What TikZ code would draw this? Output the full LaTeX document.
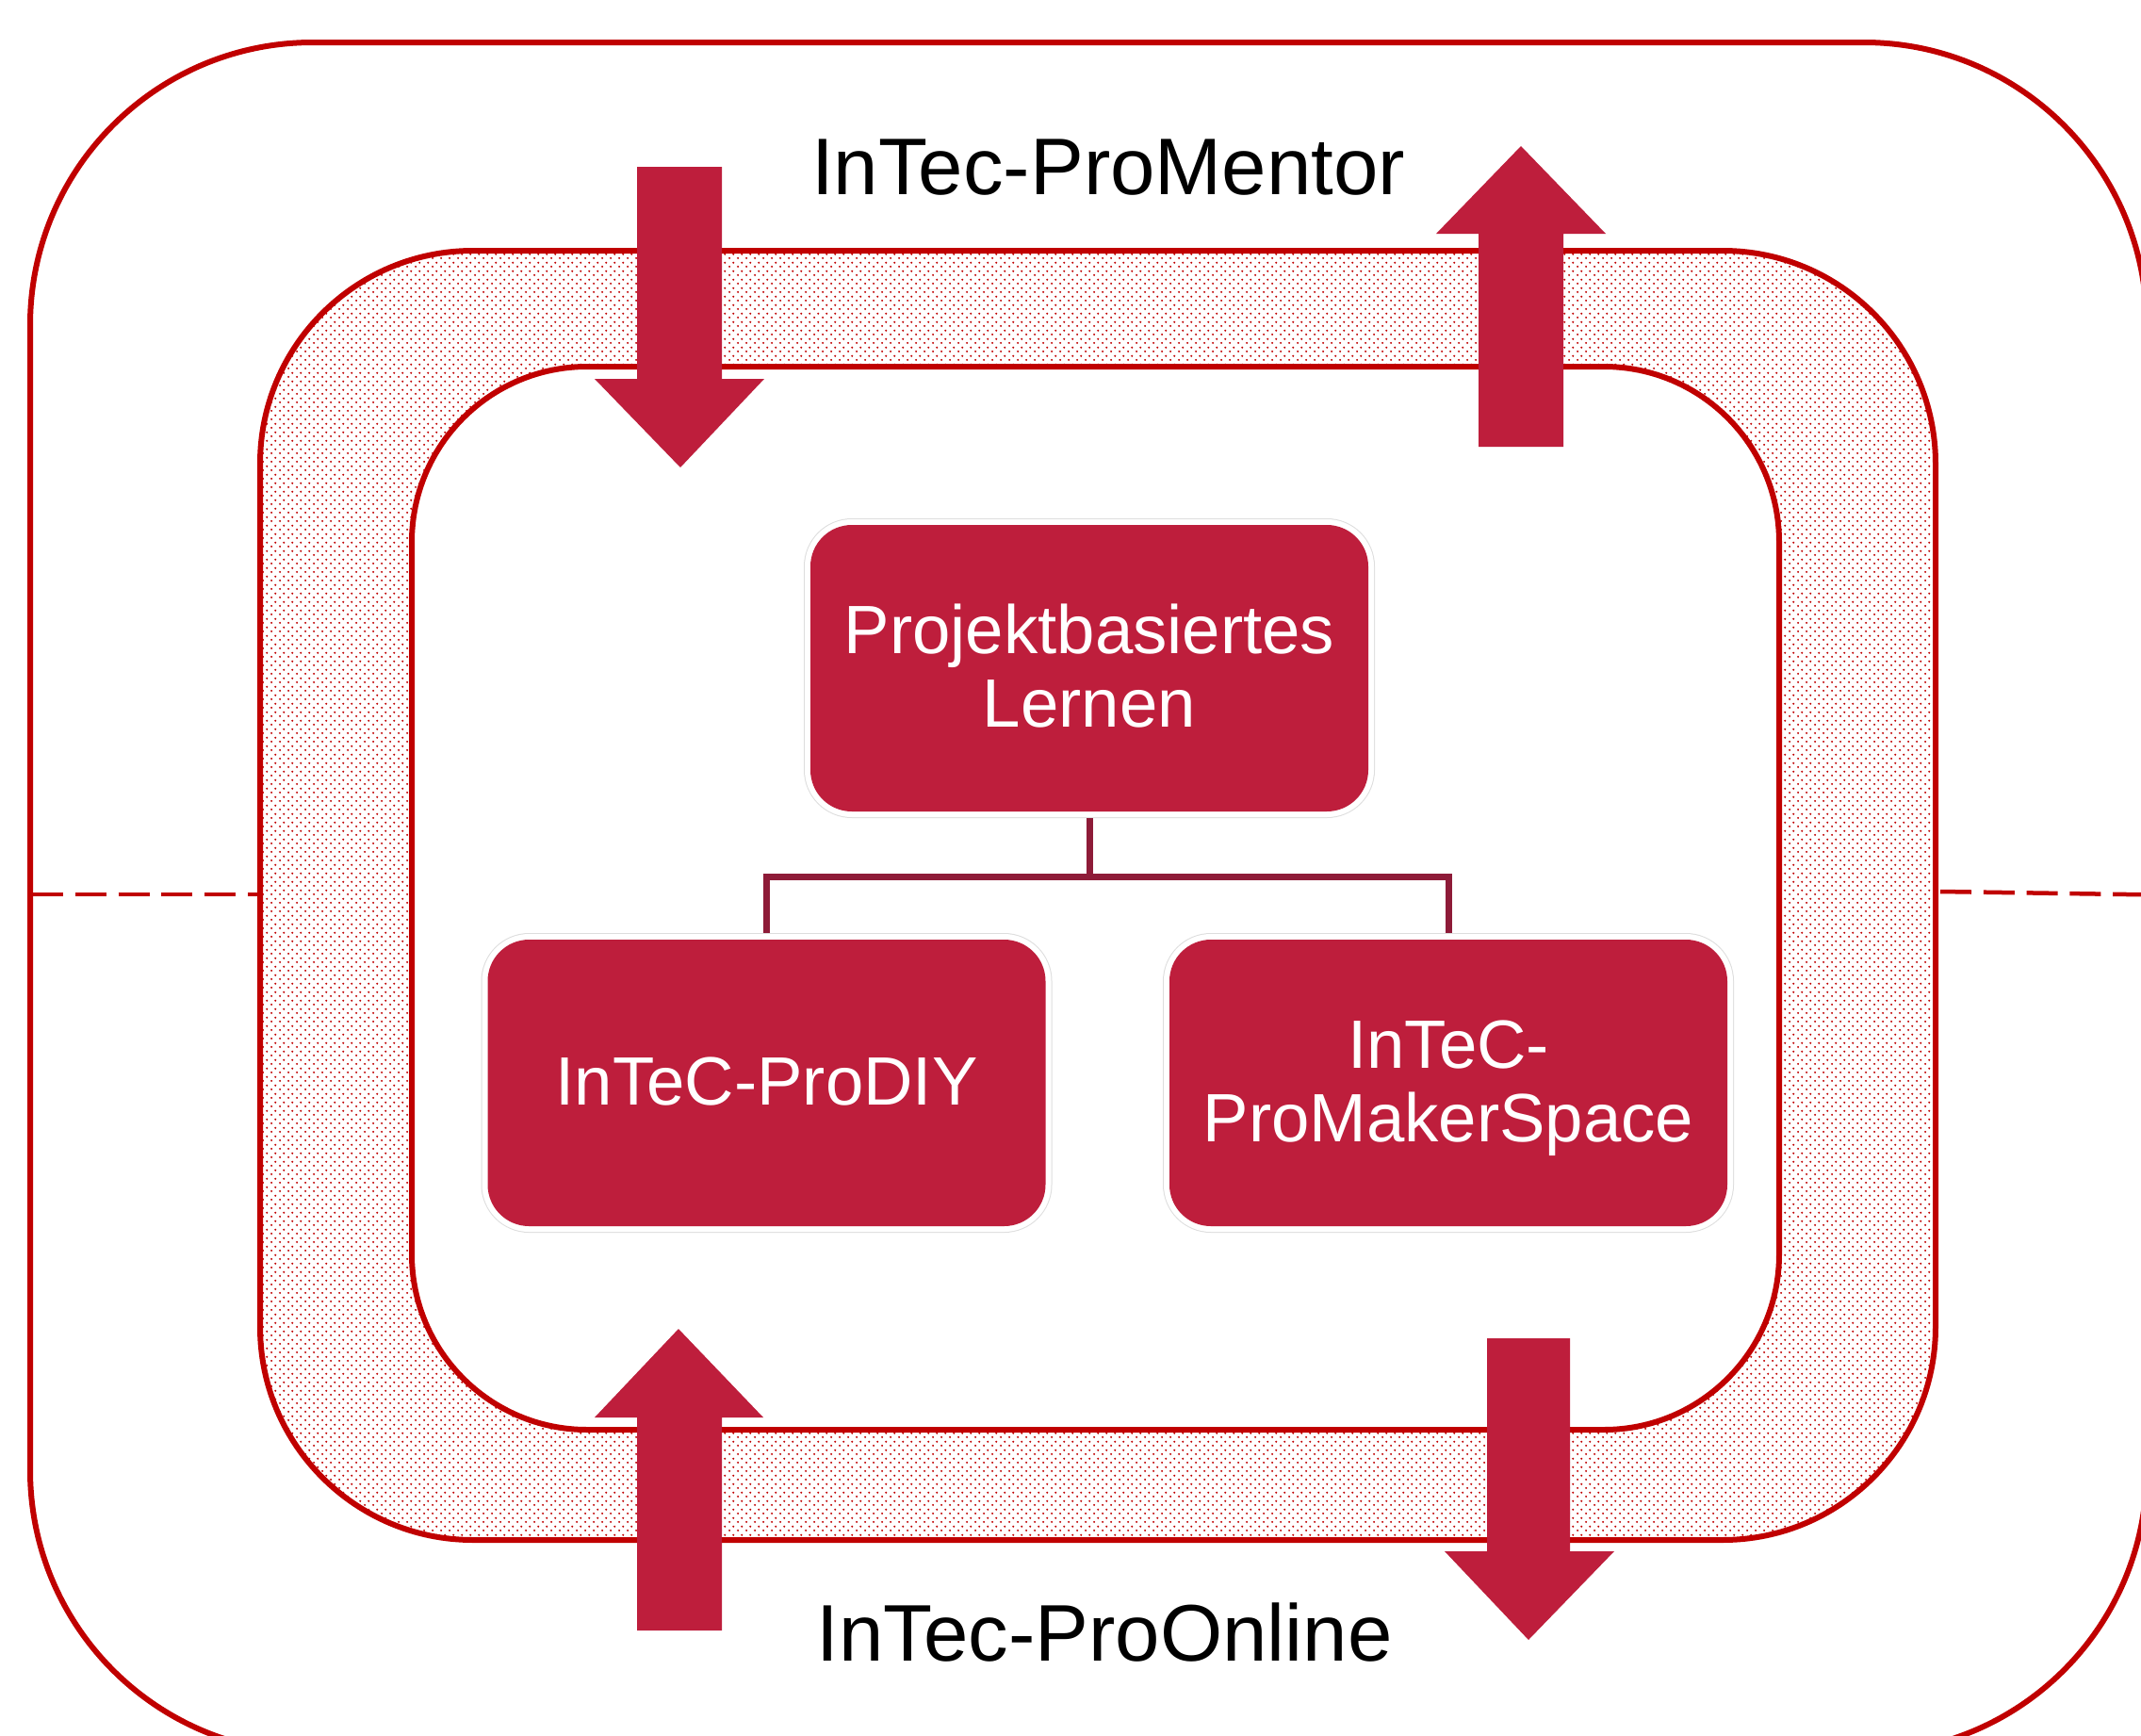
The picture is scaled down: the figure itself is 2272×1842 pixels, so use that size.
\documentclass[tikz,border=0pt]{standalone}
\usepackage{fontspec}
\setmainfont{Liberation Sans}
\usetikzlibrary{patterns}
\definecolor{ringred}{HTML}{C00000}
\definecolor{boxred}{HTML}{BE1E3C}
\definecolor{treered}{HTML}{8E1B38}
\definecolor{halogray}{HTML}{DDDDDD}
\pgfdeclarepatternformonly{fineDots}{\pgfqpoint{0pt}{0pt}}{\pgfqpoint{4.33pt}{4.33pt}}{\pgfqpoint{4.33pt}{4.33pt}}{%
  \pgfpathcircle{\pgfqpoint{1.08pt}{1.08pt}}{0.6pt}%
  \pgfpathcircle{\pgfqpoint{3.245pt}{3.245pt}}{0.6pt}%
  \pgfusepath{fill}%
}
\tikzset{
  x=0.5pt,y=-0.5pt,
  ringline/.style={draw=ringred,line width=3pt},
  dashline/.style={draw=ringred,line width=2.25pt,dash pattern=on 16.5pt off 6.4pt},
  bigarrow/.style={fill=boxred,draw=none},
  orgbox/.style={
    rectangle,rounded corners=22pt,inner sep=0pt,
    minimum width=296pt,minimum height=152pt,
    fill=boxred,text=white,align=center,
    font=\fontsize{36.3}{39}\selectfont,
    preaction={draw=halogray,line width=7pt},
    preaction={draw=white,line width=6pt}},
  treeline/.style={draw=treered,line width=3.5pt,shorten <=3.2pt},
  biglabel/.style={inner sep=0pt,text=black,font=\fontsize{42.6}{48}\selectfont},
}
\begin{document}
\begin{tikzpicture}
\useasboundingbox (0,0) rectangle (2272,1842);
\clip (0,0) rectangle (2272,1842);
\fill[white] (0,0) rectangle (2272,1842);
% outer ring
\draw[ringline,rounded corners=150pt] (32,45) rectangle (2278,1860);
\draw[dashline] (34,949) -- (275,949);
\draw[dashline] (2059,946) -- (2290,949.5);
% dotted band
\draw[ringline,rounded corners=113pt,pattern=fineDots,pattern color=ringred] (276,266) rectangle (2054,1634);
\draw[ringline,rounded corners=93pt,fill=white] (437,389) rectangle (1888,1517);
% arrows
\path[bigarrow] (676,177) -- (766,177) -- (766,402) -- (811,402) -- (722,496) -- (631,402) -- (676,402) -- cycle;
\path[bigarrow] (1569,474) -- (1659,474) -- (1659,248) -- (1704,248) -- (1614,155) -- (1524,248) -- (1569,248) -- cycle;
\path[bigarrow] (676,1730) -- (766,1730) -- (766,1504) -- (810,1504) -- (720,1410) -- (631,1504) -- (676,1504) -- cycle;
\path[bigarrow] (1578,1420) -- (1666,1420) -- (1666,1646) -- (1713,1646) -- (1622,1740) -- (1533,1646) -- (1578,1646) -- cycle;
% boxes
\node[orgbox,text height=62pt,text depth=0pt] (top) at (1156,709) {Projektbasiertes\\Lernen};
\node[orgbox,text height=23pt,text depth=0pt] (left) at (813.5,1149) {InTeC-ProDIY};
\node[orgbox,text height=62pt,text depth=0pt] (right) at (1537,1149) {InTeC-\\ProMakerSpace};
\coordinate (bus) at (1156,930);
\draw[treeline] (top.south) -- (bus);
\draw[treeline,shorten <=0pt,shorten >=3.2pt,line join=miter] (bus) -| (left.north);
\draw[treeline,shorten <=0pt,shorten >=3.2pt,line join=miter] (bus) -| (right.north);
% labels
\node[biglabel] (mentor) at (1176,178) {InTec-ProMentor};
\node[biglabel] (online) at (1172,1732) {InTec-ProOnline};
\end{tikzpicture}
\end{document}
